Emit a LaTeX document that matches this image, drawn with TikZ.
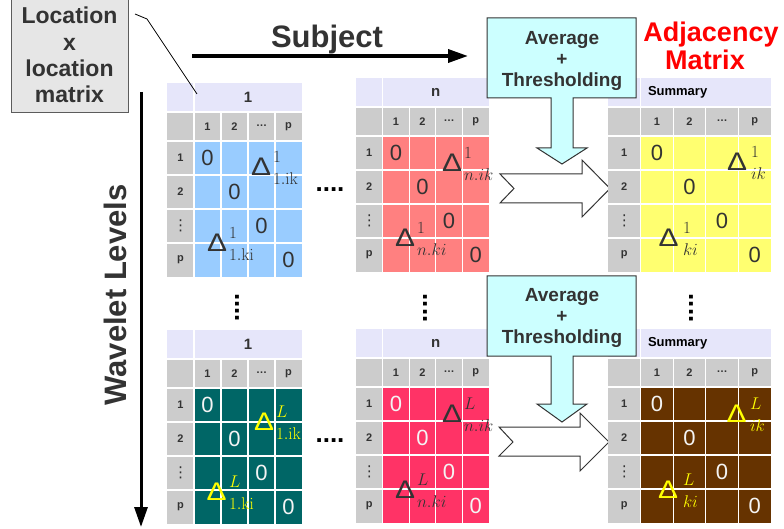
\RequirePackage{fix-cm}
\documentclass[tikz,border=0pt]{standalone}
\usepackage[no-math]{fontspec}
\usepackage{graphicx}
\setmainfont{Liberation Sans}
\newfontfamily\dejavu{DejaVu Sans}
\usetikzlibrary{arrows.meta}
\definecolor{txt}{HTML}{333333}
\definecolor{lav}{HTML}{E6E6FA}
\definecolor{hgray}{HTML}{CCCCCC}
\definecolor{cblue}{HTML}{99CCFF}
\definecolor{csalmon}{HTML}{FF8080}
\definecolor{cyell}{HTML}{FFFF70}
\definecolor{cteal}{HTML}{006666}
\definecolor{cpink}{HTML}{FF3366}
\definecolor{cbrown}{HTML}{663300}
\definecolor{callcyan}{HTML}{CCFFFF}
\definecolor{locfill}{HTML}{E6E6E6}
\definecolor{dyell}{HTML}{FFFF00}
\definecolor{zwhite}{HTML}{F4F4F4}

% #1 name, #2 x0, #3 y0, #4 cell width, #5 data fill, #6 zero colour
\newcommand\drawmat[6]{%
  \fill[lav] (#2,#3) rectangle ++(5*#4,29);
  \fill[hgray] (#2,#3+29) rectangle ++(5*#4,29);
  \fill[hgray] (#2,#3+58) rectangle ++(#4,136);
  \fill[#5] (#2+#4,#3+58) rectangle ++(4*#4,136);
  \draw[gridline] (#2+#4,#3) -- ++(0,194);
  \foreach \k in {2,3,4} {\draw[gridline] (#2+\k*#4,#3+29) -- ++(0,165);}
  \foreach \r in {29,58,92,126,160} {\draw[gridline] (#2,#3+\r) -- ++(5*#4,0);}
  \node[colh] (#1-c1) at (#2+1.5*#4,#3+43.5) {1};
  \node[colh] (#1-c2) at (#2+2.5*#4,#3+43.5) {2};
  \node[colh] (#1-c3) at (#2+3.5*#4,#3+43) {…};
  \node[colh] (#1-c4) at (#2+4.5*#4,#3+43.5) {p};
  \node[colh] (#1-r1) at (#2+0.5*#4,#3+75) {1};
  \node[colh] (#1-r2) at (#2+0.5*#4,#3+109) {2};
  \node[colh,font=\dejavu\fontsize{15}{15}\selectfont] (#1-r3) at (#2+0.5*#4,#3+143) {⋮};
  \node[colh] (#1-r4) at (#2+0.5*#4,#3+177) {p};
  \node[zero,text=#6] (#1-z1) at (#2+1.5*#4,#3+75) {0};
  \node[zero,text=#6] (#1-z2) at (#2+2.5*#4,#3+109) {0};
  \node[zero,text=#6] (#1-z3) at (#2+3.5*#4,#3+143) {0};
  \node[zero,text=#6] (#1-z4) at (#2+4.5*#4,#3+177) {0};
}
% #1 name, #2 tri x, #3 tri y, #4 script x, #5 sup, #6 sub, #7 colour
\newcommand\dlt[7]{%
  \node[tri,text=#7] (#1) at (#2,#3) {\resizebox{20pt}{17.5pt}{Δ}};
  \node[scr,text=#7,anchor=west] (#1-sup) at (#4,#3-10) {$#5$};
  \node[scr,text=#7,anchor=west] (#1-sub) at (#4,#3+11.5) {$#6$};
}

\begin{document}
\begin{tikzpicture}[x=1pt,y=-1pt,
  every node/.style={inner sep=0pt,outer sep=0pt},
  gridline/.style={draw=white,line width=1.3pt},
  colh/.style={font=\fontsize{11}{11}\selectfont\bfseries,text=txt},
  mtitle/.style={font=\fontsize{15}{15}\selectfont\bfseries,text=txt},
  stitle/.style={font=\fontsize{13}{13}\selectfont\bfseries,text=black,anchor=west},
  zero/.style={font=\fontsize{22}{22}\selectfont},
  tri/.style={font=\fontsize{24}{24}\selectfont},
  scr/.style={font=\fontsize{17}{17}\selectfont},
  big/.style={font=\fontsize{31}{31}\selectfont\bfseries,text=txt},
  redtitle/.style={font=\fontsize{27}{27}\selectfont\bfseries,text=red},
  callout/.style={fill=callcyan,draw=txt,line width=1pt},
  calltext/.style={align=center,font=\fontsize{19}{21}\selectfont\bfseries,text=txt},
  blockarrow/.style={fill=white,draw=txt,line width=1pt},
  dotrow/.style={font=\fontsize{26}{26}\selectfont\bfseries,text=black},
  locbox/.style={draw=txt!80,fill=locfill,line width=0.8pt,minimum width=117pt,minimum height=114pt,
    align=center,font=\fontsize{23}{26.3}\selectfont\bfseries,text=txt},
]
\useasboundingbox (0,0) rectangle (784,529);

% block arrows (under summary matrices)
\path[blockarrow] (500,174) -- (582,174) -- (582,160) -- (610,188.5) -- (582,217) -- (582,203) -- (500,203) -- (514,188.5) -- cycle;
\path[blockarrow] (499,427) -- (580,427) -- (580,413) -- (609,442) -- (580,471) -- (580,456) -- (499,456) -- (513,442) -- cycle;

% matrices
\drawmat{ma}{167}{83}{27}{cblue}{txt}
\node[mtitle] (ma-t) at (167+3*27,83+14.5) {1};
\drawmat{mb}{356}{78}{26.6}{csalmon}{txt}
\node[mtitle] (mb-t) at (356+3*26.6,78+14.5) {n};
\drawmat{mc}{608}{78}{32.6}{cyell}{txt}
\node[stitle] (mc-t) at (648,78+14.5) {Summary};

\drawmat{md}{167}{330}{27}{cteal}{zwhite}
\node[mtitle] (md-t) at (167+3*27,330+14.5) {1};
\drawmat{me}{356}{329}{26.6}{cpink}{zwhite}
\node[mtitle] (me-t) at (356+3*26.6,329+14.5) {n};
\drawmat{mf}{608}{329}{32.6}{cbrown}{zwhite}
\node[stitle] (mf-t) at (648,329+14.5) {Summary};

% deltas
\dlt{da1}{261}{167}{273}{1}{1.\mathrm{ik}}{txt}
\dlt{da2}{217}{243}{229}{1}{1.\mathrm{ki}}{txt}
\dlt{db1}{452}{163}{464}{1}{n.ik}{txt}
\dlt{db2}{405}{238}{417}{1}{n.ki}{txt}
\dlt{dc1}{737}{162}{751}{1}{ik}{txt}
\dlt{dc2}{668.5}{238}{683}{1}{ki}{txt}
\dlt{dd1}{264}{422}{276}{L}{1.\mathrm{ik}}{dyell}
\dlt{dd2}{216.5}{492}{229}{L}{1.\mathrm{ki}}{dyell}
\dlt{de1}{452}{414}{464}{L}{n.ik}{txt}
\dlt{de2}{405}{490}{417}{L}{n.ki}{txt}
\dlt{df1}{736.5}{414}{750}{L}{ik}{dyell}
\dlt{df2}{668}{490}{683}{L}{ki}{dyell}

% callouts
\path[callout] (487,18) -- (636,18) -- (636,98) -- (573,98) -- (573,148) -- (587,148) -- (562,164)
  -- (537,148) -- (551,148) -- (551,98) -- (487,98) -- cycle;
\node[calltext] (avg1) at (562,61) {Average\\+\\Thresholding};
\path[callout] (487,276) -- (636,276) -- (636,356) -- (573,356) -- (573,404) -- (587,404) -- (562,422)
  -- (537,404) -- (551,404) -- (551,356) -- (487,356) -- cycle;
\node[calltext] (avg2) at (562,318) {Average\\+\\Thresholding};

% dots
\node[dotrow] (hd1) at (330,190) {....};
\node[dotrow] (hd2) at (330,441) {....};
\node[dotrow,rotate=-90] (vd1) at (237,307.5) {....};
\node[dotrow,rotate=-90] (vd2) at (425,308) {....};
\node[dotrow,rotate=-90] (vd3) at (691,308) {....};

% titles
\node[locbox] (loc) at (69.5,55) {Location\\x\\location\\matrix};
\coordinate (l1) at (135,14);
\coordinate (l2) at (147,19);
\coordinate (l3) at (197,94);
\draw[line width=0.8pt,black] (l1) -- (l2) -- (l3);

\node[big] (subj) at (327,39) {Subject};
\coordinate (sa) at (192,56);
\coordinate (sb) at (468,56);
\draw[line width=3.5pt,-{Triangle[length=20pt,width=13pt]}] (sa) -- (sb);

\node[big,rotate=90] (wl) at (115,295) {Wavelet Levels};
\coordinate (wa) at (141,92);
\coordinate (wb) at (141,527);
\draw[line width=3pt,-{Triangle[length=20pt,width=13pt]}] (wa) -- (wb);

\node[redtitle] (adj1) at (711,35) {Adjacency};
\node[redtitle] (adj2) at (705,60) {Matrix};
\end{tikzpicture}
\end{document}
